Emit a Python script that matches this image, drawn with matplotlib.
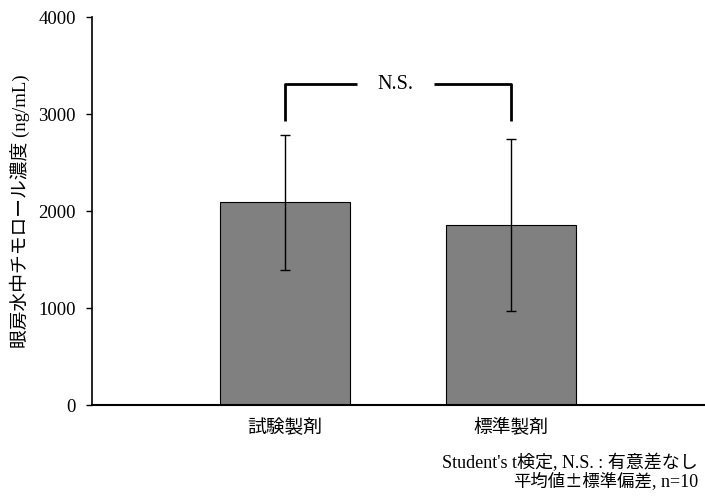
import matplotlib.pyplot as plt

# mean ± SD of aqueous humor timolol concentration (ng/mL), n=10
groups = ["試験製剤", "標準製剤"]
means = [2090, 1855]
sds = [700, 890]
y_ticks = [0, 1000, 2000, 3000, 4000]
bracket_top = 3310
bracket_leg = 2930

plt.rcParams["font.family"] = ["Liberation Serif", "Noto Sans CJK JP"]


def main():
    fig = plt.figure(figsize=(7.05, 5.0), dpi=100)
    ax = fig.add_axes([0.1305, 0.19, 0.8695, 0.7754])

    x = list(range(len(groups)))
    ax.bar(x, means, width=0.575, color="#808080", edgecolor="#000000",
           linewidth=0.8, zorder=2)
    ax.errorbar(x, means, yerr=sds, fmt="none", ecolor="black",
                elinewidth=1.0, capsize=3.5, capthick=1.0, zorder=3)

    # significance bracket with a gap for the label
    gap_l, gap_r = 0.32, 0.66
    ax.plot([x[0], x[0], gap_l], [bracket_leg, bracket_top, bracket_top],
            color="black", lw=2, solid_capstyle="butt", zorder=3)
    ax.plot([gap_r, x[1], x[1]], [bracket_top, bracket_top, bracket_leg],
            color="black", lw=2, solid_capstyle="butt", zorder=3)
    ax.text((x[0] + x[1]) / 2 - 0.01, bracket_top, "N.S.", ha="center",
            va="center", fontsize=14.5)

    ax.set_xlim(-0.854, 1.858)
    ax.set_ylim(0, 4000)
    ax.set_yticks(y_ticks)
    ax.set_yticklabels([str(v) for v in y_ticks], fontsize=13.5)
    ax.set_xticks(x)
    ax.set_xticklabels(groups, fontsize=13.5, family="Noto Sans CJK JP")
    ax.tick_params(axis="x", length=0, pad=9)
    ax.tick_params(axis="y", direction="out", length=4.5, width=1, pad=7)

    ax.spines["top"].set_visible(False)
    ax.spines["right"].set_visible(False)
    ax.spines["left"].set_linewidth(1.2)
    ax.spines["bottom"].set_linewidth(1.5)

    ax.set_ylabel("眼房水中チモロール濃度 (ng/mL)", fontsize=13.5, labelpad=6)

    # footnote, right aligned under the plot
    fig.text(0.99, 0.074, "Student's t検定, N.S. : 有意差なし", ha="right",
             va="center", fontsize=13)
    tail = fig.text(0.99, 0.036, ", n=10", ha="right", va="center",
                    fontsize=13)
    ax.annotate("平均値±標準偏差", xy=(0, 0.5), xycoords=tail,
                ha="right", va="center", fontsize=12.5,
                family="Noto Sans CJK JP", annotation_clip=False)

    fig.savefig("out.png", dpi=100)


if __name__ == "__main__":
    main()
